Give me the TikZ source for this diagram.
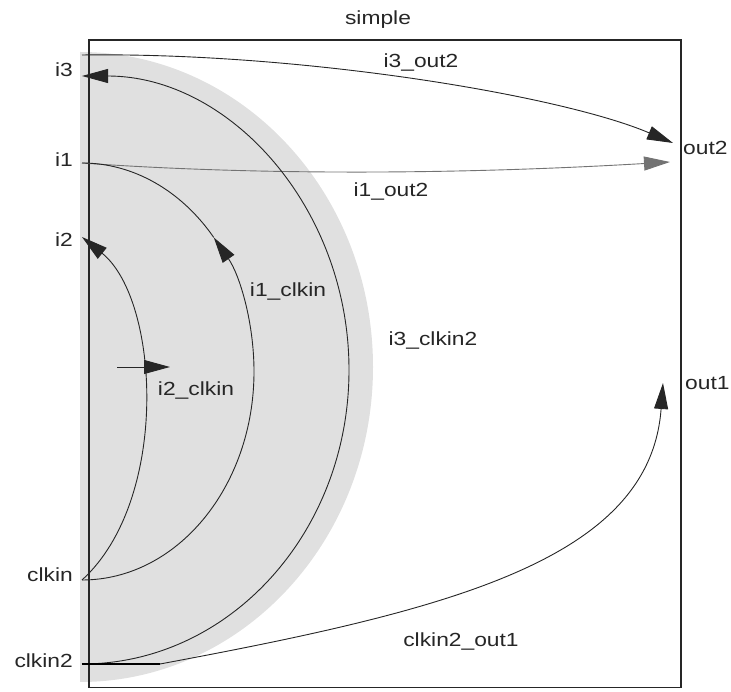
\documentclass[tikz,border=0pt]{standalone}
\usepackage{fontspec}
\setmainfont[FakeStretch=1.2]{Liberation Sans}
\usetikzlibrary{arrows.meta}
\begin{document}
\begin{tikzpicture}[x=1pt,y=1pt,
  lbl/.style={font=\fontsize{19}{22}\selectfont, inner sep=0pt, text=black!85},
  conn/.style={line width=0.9pt, draw=black!85},
  tip/.style={-{Triangle[length=26pt,width=14pt]}}]
\useasboundingbox (0,0) rectangle (731,691);
% shaded half ellipse
\fill[black!12] (80,639) arc[start angle=90,end angle=-90,x radius=293,y radius=315] -- cycle;
% module box
\node[draw=black!85, line width=1.5pt, minimum width=592pt, minimum height=647pt, inner sep=0pt, anchor=south west] (box) at (88,3) {};
\node[lbl] (title) at (378,671) {simple};
% pins
\coordinate (i3o) at (82,636);
\coordinate (i3i) at (82,615);
\coordinate (i1) at (82,528);
\coordinate (i2) at (82,454);
\coordinate (clkin) at (82,111);
\coordinate (clkin2) at (82,27);
\coordinate (out2a) at (673,548);
\coordinate (out2b) at (670,529);
\coordinate (out1) at (663,308);
\coordinate (k2) at (160,27);
\coordinate (sa) at (117,324);
\coordinate (sb) at (170,324);
% pin labels
\node[lbl, anchor=east] (li3) at (73,621) {i3};
\node[lbl, anchor=east] (li1) at (73,531) {i1};
\node[lbl, anchor=east] (li2) at (73,451) {i2};
\node[lbl, anchor=east] (lclkin) at (73,116) {clkin};
\node[lbl, anchor=east] (lclkin2) at (73,30) {clkin2};
\node[lbl, anchor=west] (lout2) at (683,543) {out2};
\node[lbl, anchor=west] (lout1) at (685,308) {out1};
% connectors
\draw[conn,tip] (i3o) .. controls (300,639) and (560,596) .. (out2a);
\draw[conn,tip,draw=black!55] (i1) .. controls (250,516) and (450,516) .. (out2b);
\draw[conn,tip] (clkin2) arc[start angle=-90,end angle=90,x radius=267,y radius=294];
\draw[conn,tip] (clkin) arc[start angle=-90,end angle=40,x radius=172,y radius=208.5];
\draw[conn] (i1) arc[start angle=90,end angle=40,x radius=172,y radius=208.5];
\draw[conn,tip] (clkin) .. controls (170,191) and (160,391) .. (i2);
\draw[conn,tip] (clkin2) -- (k2) .. controls (450,81) and (650,131) .. (out1);
\draw[line width=1.6pt] (clkin2) -- (k2);
\draw[conn,tip] (sa) -- (sb);
% connector labels
\node[lbl] (l1) at (421,628) {i3\_out2};
\node[lbl] (l2) at (391,499) {i1\_out2};
\node[lbl] (l3) at (288,399) {i1\_clkin};
\node[lbl] (l4) at (196,300) {i2\_clkin};
\node[lbl] (l5) at (433,350) {i3\_clkin2};
\node[lbl] (l6) at (461,49) {clkin2\_out1};
\end{tikzpicture}
\end{document}
